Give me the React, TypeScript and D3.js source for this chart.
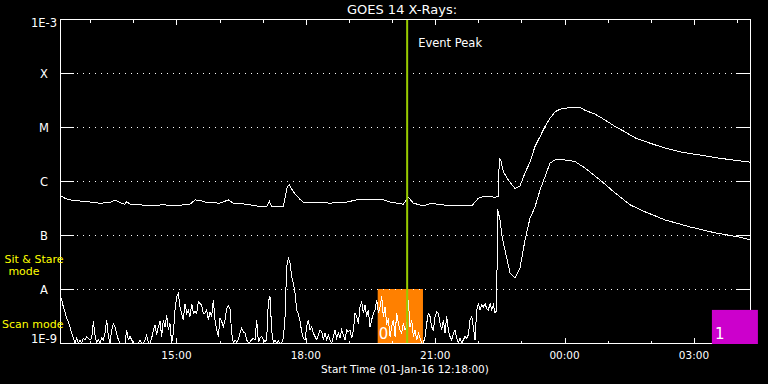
import * as d3 from 'd3';

const WIDTH = 768;
const HEIGHT = 384;
const PLOT = { left: 60, right: 750, top: 19, bottom: 343 };

const START = new Date(2016, 0, 1, 12, 18);
const END = new Date(2016, 0, 2, 4, 18);

// flux levels on the y axis
const LEVEL_FLUX = [1e-9, 1e-8, 1e-7, 1e-6, 1e-5, 1e-4, 1e-3];
const LEVEL_LABELS = ['1E-9', 'A', 'B', 'C', 'M', 'X', '1E-3'];

// long channel (1-8 A): minutes after start, log10 flux
const LONG_MIN = [
    0, 7.0, 13.9, 27.8, 37.1, 46.3, 55.7, 69.6, 76.5, 83.5,
    90.4, 92.8, 97.4, 111.3, 125.2, 143.7, 157.6, 180.9, 187.8, 194.8,
    204.1, 222.6, 234.2, 241.1, 259.8, 271.3, 287.6, 291.2, 294.5, 310.7,
    316.2, 319.0, 324.6, 333.9, 338.5, 357.1, 375.7, 398.9, 412.8, 431.3,
    449.8, 459.1, 477.6, 484.6, 491.5, 505.5, 517.1, 528.7, 551.9, 572.8,
    582.0, 591.3, 605.2, 609.8, 611.2, 613.1, 616.8, 623.7, 633.0, 640.0,
    647.0, 653.9, 660.9, 667.8, 674.8, 681.7, 688.7, 695.7, 709.6, 723.5,
    730.4, 744.3, 758.3, 772.2, 786.1, 800.0, 820.9, 841.7, 862.6, 890.4,
    918.3, 960,
];
const LONG_LOG = [
    -6.27, -6.32, -6.35, -6.37, -6.38, -6.4, -6.41, -6.4, -6.35, -6.4,
    -6.43, -6.38, -6.43, -6.44, -6.46, -6.44, -6.46, -6.43, -6.35, -6.36,
    -6.4, -6.41, -6.35, -6.41, -6.43, -6.46, -6.48, -6.37, -6.48, -6.48,
    -6.11, -6.07, -6.2, -6.34, -6.39, -6.39, -6.41, -6.39, -6.35, -6.35,
    -6.35, -6.39, -6.43, -6.3, -6.41, -6.46, -6.41, -6.44, -6.46, -6.46,
    -6.32, -6.28, -6.3, -6.29, -5.58, -5.6, -5.83, -5.98, -6.14, -6.09,
    -5.85, -5.65, -5.36, -5.18, -4.99, -4.84, -4.72, -4.67, -4.64, -4.64,
    -4.69, -4.76, -4.87, -4.99, -5.09, -5.2, -5.3, -5.39, -5.46, -5.52,
    -5.58, -5.65,
];

// short channel (0.5-4 A), quiet part: one reading every SHORT_CADENCE minutes
const SHORT_CADENCE = 2.319;
const SHORT_QUIET_LOG = [
    -8.11, -8.2, -8.33, -8.42, -8.54, -8.6, -8.7, -8.82, -8.91, -9,
    -8.91, -9, -8.94, -9, -8.91, -8.94, -8.88, -8.91, -8.94, -8.91,
    -8.6, -8.85, -9, -8.94, -9, -8.91, -8.94, -8.82, -8.57, -8.88,
    -9, -8.76, -8.64, -8.7, -8.82, -8.94, -9, -9, -9, -9,
    -8.76, -8.94, -8.88, -8.94, -9, -9, -9, -9, -8.94, -9,
    -9, -8.94, -8.85, -9, -9, -8.91, -8.76, -8.67, -8.85, -8.7,
    -8.6, -8.88, -8.57, -8.7, -8.48, -8.76, -8.64, -9, -8.82, -8.39,
    -8.14, -8.08, -8.33, -8.45, -8.57, -8.27, -8.45, -8.39, -8.51, -8.27,
    -8.45, -8.42, -8.45, -8.23, -8.27, -8.3, -8.45,
    -8.45, -8.39, -8.57, -8.42, -8.51, -8.2, -8.57, -8.76, -8.88, -8.54,
    -8.6, -8.7, -8.57, -8.36, -8.31, -8.36, -8.82, -9, -8.94, -8.98,
    -8.94, -8.82, -8.73, -8.79, -8.82, -8.94, -9, -8.98, -8.94, -8.91,
    -8.94, -8.57, -8.98, -8.91, -8.88, -8.94, -8.98, -8.94, -8.23, -8.14,
    -8.76, -9, -8.94, -9, -8.96, -9, -9, -8.91, -8.51, -7.59,
    -7.43, -7.52, -7.77, -7.9, -8.08, -8.39, -8.45, -8.6, -8.79, -8.91,
    -8.94, -8.7, -8.57, -8.76, -8.7, -8.82, -8.88, -8.94, -8.85, -8.76,
    -8.79, -8.94, -8.82, -8.94, -8.85, -8.94, -9, -8.88, -8.76, -8.91,
    -8.82, -8.91, -8.76, -8.85, -8.94, -8.76, -8.79,
    -8.76, -8.91, -8.76, -8.45, -8.51, -8.64, -8.33, -8.23, -8.45, -8.3,
    -8.51, -8.39, -8.7, -8.57, -8.45, -8.39, -8.2, -8.45, -8.33, -8.14,
    -8.51, -8.33, -8.64, -8.57, -8.88, -8.7, -8.57, -8.88, -8.45, -8.64,
    -8.76, -8.82, -8.64, -8.76, -8.7, -8.2, -8.7, -8.57, -8.88, -8.76,
    -8.94, -8.82, -8.91, -9, -9, -8.88, -8.64, -8.45, -8.51, -8.7,
    -8.76, -8.51, -8.42, -8.45, -8.64, -8.76, -8.57, -8.82, -8.51, -8.76,
    -8.88, -8.94, -8.82, -8.76, -8.91, -9, -8.91, -9, -8.94, -8.88,
    -8.91, -8.85, -8.57, -8.51, -8.7, -8.94, -8.39, -8.27, -8.39, -8.3,
    -8.33, -8.27, -8.36, -8.39, -8.27, -8.39, -8.3, -8.45, -8.39,
];
// short channel, flare part
const SHORT_FLARE_MIN = [
    608.7, 612.2, 615.0, 619.1, 626.1, 633.0, 640.0, 647.0, 653.9, 660.9,
    667.8, 674.8, 681.7, 688.7, 702.6, 716.5, 730.4, 751.3, 772.2, 793.0,
    813.9, 841.7, 876.5, 911.3, 946.1, 960,
];
const SHORT_FLARE_LOG = [
    -6.52, -6.72, -7.03, -7.28, -7.7, -7.8, -7.61, -7.09, -6.69, -6.48,
    -6.17, -5.92, -5.67, -5.61, -5.61, -5.64, -5.76, -5.98, -6.22, -6.44,
    -6.57, -6.72, -6.85, -6.96, -7.04, -7.09,
];

const EVENT_PEAK_MIN = 483;
const SIT_STARE_SPAN = [442, 505];
const SCAN_SPAN = [907, 971];
const SIT_STARE_TOP = 1e-8;
const SCAN_TOP = 4.1e-9;

const at = (m: number) => d3.timeSecond.offset(START, Math.round(m * 60));

export default function App() {
    const x = d3.scaleTime().domain([START, END]).range([PLOT.left, PLOT.right]);
    const y = d3.scaleLog().domain([1e-9, 1e-3]).range([PLOT.bottom, PLOT.top]);

    const longData: [Date, number][] = LONG_MIN.map((m, i) => [at(m), LONG_LOG[i]]);
    const shortData: [Date, number][] = [
        ...SHORT_QUIET_LOG.map((v, i) => [at(i * SHORT_CADENCE), v] as [Date, number]),
        ...SHORT_FLARE_MIN.map((m, i) => [at(m), SHORT_FLARE_LOG[i]] as [Date, number]),
    ];

    const line = d3
        .line<[Date, number]>()
        .x((d) => x(d[0]))
        .y((d) => y(Math.pow(10, Math.max(-9, d[1]))));

    const hours = x.ticks(d3.timeHour.every(1));
    const fmt = d3.timeFormat('%H:%M');
    const font = 'DejaVu Sans, sans-serif';
    const crisp = (v: number) => Math.round(v) + 0.5;

    const peakX = x(at(EVENT_PEAK_MIN));

    return (
        <svg width={WIDTH} height={HEIGHT} style={{ position: 'absolute', left: 0, top: 0, background: '#000' }}>
            <rect width={WIDTH} height={HEIGHT} fill="#000" />
            <defs>
                <clipPath id="plot">
                    <rect x={PLOT.left} y={PLOT.top} width={PLOT.right - PLOT.left} height={PLOT.bottom - PLOT.top + 1} />
                </clipPath>
            </defs>

            {/* sit & stare interval */}
            <rect
                x={x(at(SIT_STARE_SPAN[0]))}
                y={y(SIT_STARE_TOP)}
                width={x(at(SIT_STARE_SPAN[1])) - x(at(SIT_STARE_SPAN[0]))}
                height={PLOT.bottom - y(SIT_STARE_TOP)}
                fill="#ff8000"
            />
            <text x={x(at(SIT_STARE_SPAN[0])) + 1} y={339} fill="#fff" fontFamily={font} fontSize={15}>0</text>

            {/* gridlines + level ticks */}
            {LEVEL_FLUX.map((f, i) => {
                const yy = crisp(y(f));
                const inner = i > 0 && i < LEVEL_FLUX.length - 1;
                return (
                    <g key={f} shapeRendering="crispEdges">
                        <line x1={PLOT.left} x2={PLOT.left + 14} y1={yy} y2={yy} stroke="#fff" />
                        <line x1={PLOT.right - 14} x2={PLOT.right} y1={yy} y2={yy} stroke="#fff" />
                        {inner && (
                            <line
                                x1={PLOT.left + 17}
                                x2={PLOT.right - 15}
                                y1={yy}
                                y2={yy}
                                stroke="#fff"
                                strokeDasharray="1 5"
                            />
                        )}
                        <text
                            x={inner ? 44 : 57}
                            y={i === 0 ? PLOT.bottom : i === LEVEL_FLUX.length - 1 ? PLOT.top + 8 : yy + 4}
                            textAnchor={inner ? 'middle' : 'end'}
                            fill="#fff"
                            fontFamily={font}
                            fontSize={11.5}
                        >
                            {LEVEL_LABELS[i]}
                        </text>
                    </g>
                );
            })}

            {/* data */}
            <g clipPath="url(#plot)" fill="none" stroke="#fff" strokeWidth={1} shapeRendering="crispEdges">
                <path d={line(shortData) ?? ''} />
                <path d={line(longData) ?? ''} />
            </g>

            {/* event peak */}
            <line x1={peakX} x2={peakX} y1={PLOT.top} y2={PLOT.bottom} stroke="#99cc00" strokeWidth={2} />
            <text x={peakX + 11} y={47} fill="#fff" fontFamily={font} fontSize={11.5}>Event Peak</text>

            {/* frame */}
            <g shapeRendering="crispEdges" stroke="#fff" fill="none">
                <line x1={crisp(PLOT.left)} x2={crisp(PLOT.left)} y1={PLOT.top} y2={PLOT.bottom + 1} />
                <line x1={crisp(PLOT.right)} x2={crisp(PLOT.right)} y1={PLOT.top} y2={PLOT.bottom + 1} />
                <line x1={PLOT.left} x2={PLOT.right + 1} y1={crisp(PLOT.top)} y2={crisp(PLOT.top)} />
                <line x1={PLOT.left} x2={PLOT.right + 1} y1={crisp(PLOT.bottom)} y2={crisp(PLOT.bottom)} />
                {hours.map((h) => {
                    const xx = crisp(x(h));
                    const major = h.getHours() % 3 === 0;
                    return (
                        <g key={+h}>
                            <line x1={xx} x2={xx} y1={PLOT.top} y2={PLOT.top + (major ? 6 : 4)} />
                            <line x1={xx} x2={xx} y1={PLOT.bottom + 1} y2={PLOT.bottom + 1 - (major ? 6 : 3)} />
                        </g>
                    );
                })}
            </g>
            {hours
                .filter((h) => h.getHours() % 3 === 0)
                .map((h) => (
                    <text key={+h} x={x(h)} y={359} textAnchor="middle" fill="#fff" fontFamily={font} fontSize={10.5}>
                        {fmt(h)}
                    </text>
                ))}

            {/* scan interval */}
            <rect
                x={x(at(SCAN_SPAN[0]))}
                y={y(SCAN_TOP)}
                width={x(at(SCAN_SPAN[1])) - x(at(SCAN_SPAN[0]))}
                height={PLOT.bottom + 1 - y(SCAN_TOP)}
                fill="#cc00cc"
            />
            <text x={x(at(SCAN_SPAN[0])) + 3} y={339} fill="#fff" fontFamily={font} fontSize={15}>1</text>

            {/* titles */}
            <text x={402} y={14} textAnchor="middle" fill="#fff" fontFamily={font} fontSize={13}>GOES 14 X-Rays:</text>
            <text x={405} y={373} textAnchor="middle" fill="#fff" fontFamily={font} fontSize={10.5}>
                Start Time (01-Jan-16 12:18:00)
            </text>
            <text x={34} y={263} textAnchor="middle" fill="#ffff00" fontFamily={font} fontSize={11}>Sit &amp; Stare</text>
            <text x={24} y={275} textAnchor="middle" fill="#ffff00" fontFamily={font} fontSize={11}>mode</text>
            <text x={2} y={328} fill="#ffff00" fontFamily={font} fontSize={11}>Scan mode</text>
        </svg>
    );
}
